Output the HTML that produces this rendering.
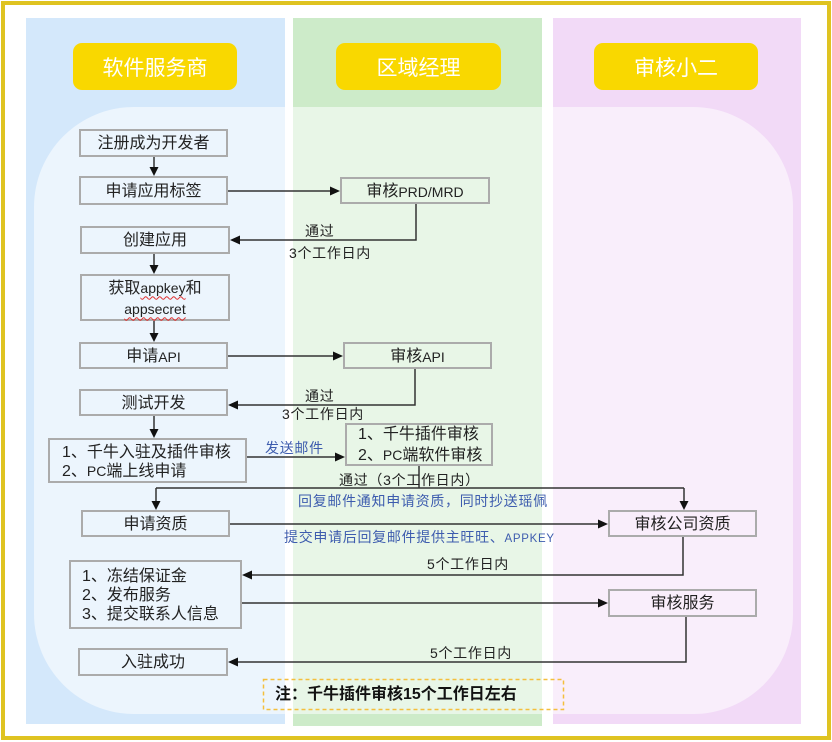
<!DOCTYPE html>
<html>
<head>
<meta charset="utf-8">
<style>
  html,body{margin:0;padding:0;background:#fff;}
  body{width:832px;height:742px;position:relative;overflow:hidden;
       font-family:"Liberation Sans","Noto Sans CJK SC",sans-serif;}
  .abs{position:absolute;box-sizing:border-box;}
  .frame{left:1px;top:1px;width:830px;height:739px;border:4px solid #DFC321;}
  .lane{position:absolute;}
  .overlay{left:34px;top:107px;width:759px;height:607px;border-radius:100px;background:rgba(255,255,255,0.55);}
  .hdr{position:absolute;height:47px;background:#F9D800;border-radius:9px;color:#fff;
       font-family:"Noto Sans CJK SC",sans-serif;font-size:21px;display:flex;align-items:center;justify-content:center;}
  .box{position:absolute;box-sizing:border-box;border:2px solid #ABABAB;color:#222;font-size:16px;
       display:flex;align-items:center;justify-content:center;text-align:center;line-height:20px;padding-top:2px;
       font-family:"Liberation Sans","Noto Sans CJK SC",sans-serif;}
  .box.left{justify-content:flex-start;text-align:left;}
  .l{font-size:14px;}
  .lbl{position:absolute;font-size:14px;line-height:16px;color:#222;letter-spacing:0.7px;white-space:nowrap;
       font-family:"Liberation Sans","Noto Sans CJK SC",sans-serif;}
  .blue{color:#3D5CAE;}
  .sp{text-decoration:underline wavy #e03030;text-decoration-thickness:1px;text-underline-offset:3px;}
</style>
</head>
<body>
  <div class="abs frame"></div>

  <div class="lane" style="left:26px;top:18px;width:259px;height:706px;background:#D4E8FB;"></div>
  <div class="lane" style="left:293px;top:18px;width:249px;height:708px;background:#CDEBC9;"></div>
  <div class="lane" style="left:553px;top:18px;width:248px;height:706px;background:#F2DAF7;"></div>
  <div class="abs overlay"></div>

  <div class="hdr" style="left:73px;top:43px;width:164px;">软件服务商</div>
  <div class="hdr" style="left:336px;top:43px;width:165px;">区域经理</div>
  <div class="hdr" style="left:594px;top:43px;width:164px;">审核小二</div>

  <svg class="abs" style="left:0;top:0;" width="832" height="742" viewBox="0 0 832 742">
    <g stroke="#333" stroke-width="1.5" fill="none">
      <line x1="154" y1="157" x2="154" y2="167"/>
      <line x1="228" y1="191" x2="330" y2="191"/>
      <polyline points="416,204 416,240 240,240"/>
      <line x1="154" y1="254" x2="154" y2="265"/>
      <line x1="154" y1="321" x2="154" y2="333"/>
      <line x1="228" y1="356" x2="333" y2="356"/>
      <polyline points="415,369 415,405 238,405"/>
      <line x1="154" y1="416" x2="154" y2="429"/>
      <line x1="247" y1="457" x2="335" y2="457"/>
      <line x1="419" y1="466" x2="419" y2="488"/>
      <line x1="156" y1="488" x2="684" y2="488"/>
      <line x1="156" y1="488" x2="156" y2="501"/>
      <line x1="684" y1="488" x2="684" y2="501"/>
      <line x1="230" y1="524" x2="598" y2="524"/>
      <polyline points="683,537 683,575 252,575"/>
      <line x1="242" y1="603" x2="598" y2="603"/>
      <polyline points="686,617 686,662 238,662"/>
    </g>
    <g fill="#111">
      <polygon points="149.5,167 158.5,167 154,176"/>
      <polygon points="330,186.5 330,195.5 340,191"/>
      <polygon points="240,235.5 240,244.5 230,240"/>
      <polygon points="149.5,265 158.5,265 154,274"/>
      <polygon points="149.5,333 158.5,333 154,342"/>
      <polygon points="333,351.5 333,360.5 343,356"/>
      <polygon points="238,400.5 238,409.5 228,405"/>
      <polygon points="149.5,429 158.5,429 154,438"/>
      <polygon points="335,452.5 335,461.5 345,457"/>
      <polygon points="151.5,501 160.5,501 156,510"/>
      <polygon points="679.5,501 688.5,501 684,510"/>
      <polygon points="598,519.5 598,528.5 608,524"/>
      <polygon points="252,570.5 252,579.5 242,575"/>
      <polygon points="598,598.5 598,607.5 608,603"/>
      <polygon points="238,657.5 238,666.5 228,662"/>
    </g>
    <rect x="263.5" y="679.5" width="300" height="30" fill="none" stroke="#F4BF3C" stroke-width="1.5" stroke-dasharray="4 3"/>
  </svg>

  <!-- left lane boxes -->
  <div class="box" style="left:79px;top:129px;width:149px;height:28px;">注册成为开发者</div>
  <div class="box" style="left:79px;top:176px;width:149px;height:29px;">申请应用标签</div>
  <div class="box" style="left:80px;top:226px;width:150px;height:28px;">创建应用</div>
  <div class="box" style="left:80px;top:274px;width:150px;height:47px;"><div>获取<span class="l sp">appkey</span>和<br><span class="l sp">appsecret</span></div></div>
  <div class="box" style="left:79px;top:342px;width:149px;height:27px;">申请<span class="l">API</span></div>
  <div class="box" style="left:79px;top:389px;width:149px;height:27px;">测试开发</div>
  <div class="box left" style="left:48px;top:438px;width:199px;height:45px;padding-left:12px;line-height:19px;"><div>1、千牛入驻及插件审核<br>2、<span class="l">PC</span>端上线申请</div></div>
  <div class="box" style="left:81px;top:510px;width:149px;height:27px;">申请资质</div>
  <div class="box left" style="left:69px;top:560px;width:173px;height:69px;padding-left:11px;line-height:19px;"><div>1、冻结保证金<br>2、发布服务<br>3、提交联系人信息</div></div>
  <div class="box" style="left:78px;top:648px;width:150px;height:28px;">入驻成功</div>

  <!-- middle lane boxes -->
  <div class="box" style="left:340px;top:177px;width:150px;height:27px;">审核<span class="l">PRD/MRD</span></div>
  <div class="box" style="left:343px;top:342px;width:149px;height:27px;">审核<span class="l">API</span></div>
  <div class="box left" style="left:345px;top:423px;width:148px;height:43px;padding-left:11px;line-height:20px;"><div>1、千牛插件审核<br>2、<span class="l">PC</span>端软件审核</div></div>

  <!-- right lane boxes -->
  <div class="box" style="left:608px;top:510px;width:149px;height:27px;">审核公司资质</div>
  <div class="box" style="left:608px;top:589px;width:149px;height:28px;">审核服务</div>

  <!-- labels -->
  <div class="lbl" style="left:305px;top:223px;">通过</div>
  <div class="lbl" style="left:289px;top:245px;">3个工作日内</div>
  <div class="lbl" style="left:305px;top:388px;">通过</div>
  <div class="lbl" style="left:282px;top:406px;">3个工作日内</div>
  <div class="lbl blue" style="left:265px;top:440px;">发送邮件</div>
  <div class="lbl" style="left:339px;top:472px;">通过（3个工作日内）</div>
  <div class="lbl blue" style="left:298px;top:493px;">回复邮件通知申请资质，同时抄送瑶佩</div>
  <div class="lbl blue" style="left:284px;top:529px;">提交申请后回复邮件提供主旺旺、<span style="font-size:11.5px;">APPKEY</span></div>
  <div class="lbl" style="left:427px;top:556px;">5个工作日内</div>
  <div class="lbl" style="left:430px;top:645px;">5个工作日内</div>

  <div class="lbl" style="left:275px;top:686px;font-size:16px;line-height:18px;font-weight:bold;color:#111;letter-spacing:0;">注：千牛插件审核15个工作日左右</div>
</body>
</html>
